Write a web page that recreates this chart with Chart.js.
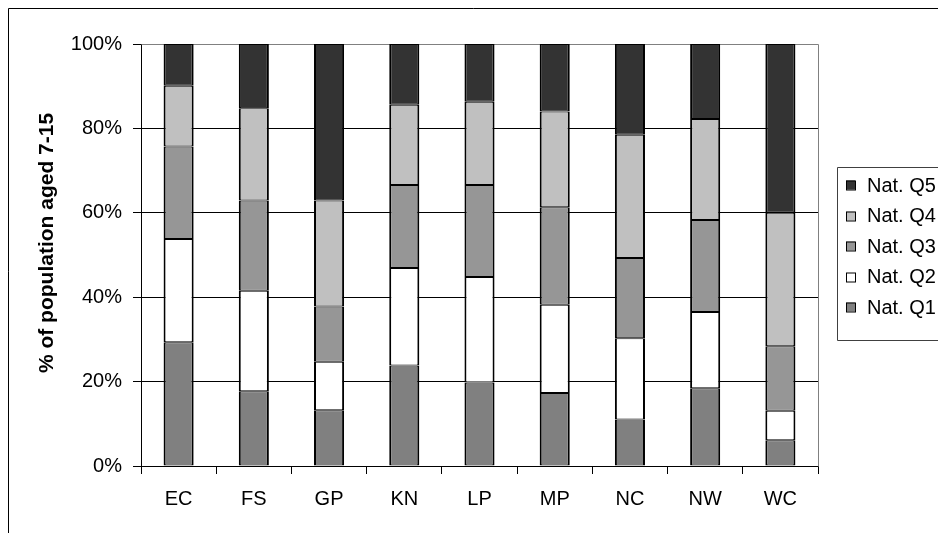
<!DOCTYPE html>
<html>
<head>
<meta charset="utf-8">
<script src="https://cdn.jsdelivr.net/npm/chart.js@4"></script>
<style>
  body { margin: 0; background: #fff; }
  #wrap { width: 938px; height: 533px; }
</style>
</head>
<body>
<div id="wrap"><canvas id="chart" width="938" height="533"></canvas></div>
<script>
// regions and share of population aged 7-15 per national quintile (%)
const regions = ['EC', 'FS', 'GP', 'KN', 'LP', 'MP', 'NC', 'NW', 'WC'];
const natQ1 = [29.3, 17.7, 13.2, 23.8, 19.8, 17.3, 11.0, 18.4, 6.1];
const natQ2 = [24.5, 23.8, 11.5, 23.1, 25.0, 20.9, 19.3, 18.1, 7.0];
const natQ3 = [21.9, 21.4, 13.1, 19.7, 21.8, 23.1, 19.0, 21.8, 15.3];
const natQ4 = [14.4, 21.9, 25.1, 19.0, 19.7, 22.7, 29.2, 23.9, 31.6];
const natQ5 = [9.9, 15.2, 37.1, 14.4, 13.7, 16.0, 21.5, 17.8, 40.0];
const yTicks = [0, 20, 40, 60, 80, 100];
const yTitle = '% of population aged 7-15';

const FONT = "'Liberation Sans', Arial, sans-serif";

function makeSet(label, data, color) {
    return {
        label: label,
        data: data,
        backgroundColor: color,
        borderColor: '#000',
        borderWidth: { left: 2, right: 2, top: 1, bottom: 1 },
        borderSkipped: false,
        barPercentage: 0.4,
        categoryPercentage: 1.0
    };
}

// borde del gráfico, marco del área, título del eje y leyenda
const framePlugin = {
    id: 'frame',
    beforeDatasetsDraw(chart) {
        const { ctx, chartArea: a } = chart;
        ctx.save();
        ctx.strokeStyle = '#808080';
        ctx.lineWidth = 1;
        ctx.beginPath();
        ctx.moveTo(Math.round(a.left) + 0.5, Math.round(a.top) + 0.5);
        ctx.lineTo(Math.round(a.right) + 0.5, Math.round(a.top) + 0.5);
        ctx.lineTo(Math.round(a.right) + 0.5, Math.round(a.bottom) + 0.5);
        ctx.stroke();
        ctx.restore();
    },
    afterDraw(chart) {
        const ctx = chart.ctx;
        ctx.save();
        // outer border (right and bottom fall outside the picture)
        ctx.strokeStyle = '#000';
        ctx.lineWidth = 1;
        ctx.beginPath();
        ctx.moveTo(8.5, 540);
        ctx.lineTo(8.5, 8.5);
        ctx.lineTo(945, 8.5);
        ctx.stroke();

        // y axis title
        ctx.save();
        ctx.translate(47, 243);
        ctx.rotate(-Math.PI / 2);
        ctx.font = 'bold 21px ' + FONT;
        ctx.textAlign = 'center';
        ctx.textBaseline = 'middle';
        ctx.fillStyle = '#000';
        ctx.fillText(yTitle, 0, 0);
        ctx.restore();

        // legend box
        const boxX = 837.5, boxY = 167.5, boxH = 173;
        ctx.strokeStyle = '#404040';
        ctx.beginPath();
        ctx.moveTo(960, boxY);
        ctx.lineTo(boxX, boxY);
        ctx.lineTo(boxX, boxY + boxH);
        ctx.lineTo(960, boxY + boxH);
        ctx.stroke();

        const sets = chart.data.datasets.slice().reverse();
        const step = 30.5;
        ctx.font = '20px ' + FONT;
        ctx.textBaseline = 'middle';
        sets.forEach((ds, i) => {
            const cy = 185 + i * step;
            ctx.fillStyle = ds.backgroundColor;
            ctx.fillRect(846, Math.round(cy) - 4.5, 9, 9);
            ctx.strokeStyle = '#000';
            ctx.strokeRect(846.5, Math.round(cy) - 4, 9, 9);
            ctx.fillStyle = '#000';
            ctx.fillText(ds.label, 867, cy + 1);
        });
        ctx.restore();
    }
};

const chart = new Chart(document.getElementById('chart').getContext('2d'), {
    type: 'bar',
    data: {
        labels: regions,
        datasets: [
            makeSet('Nat. Q1', natQ1, '#808080'),
            makeSet('Nat. Q2', natQ2, '#ffffff'),
            makeSet('Nat. Q3', natQ3, '#969696'),
            makeSet('Nat. Q4', natQ4, '#c0c0c0'),
            makeSet('Nat. Q5', natQ5, '#333333')
        ]
    },
    options: {
        responsive: false,
        animation: false,
        layout: { padding: { left: 0, top: 44, right: 120, bottom: 0 } },
        plugins: {
            legend: { display: false },
            tooltip: { enabled: false }
        },
        scales: {
            x: {
                stacked: true,
                afterFit: (s) => { s.height = 67; },
                grid: {
                    offset: true,
                    drawOnChartArea: false,
                    tickLength: 8,
                    tickColor: '#000'
                },
                border: { color: '#000', width: 1 },
                ticks: {
                    color: '#000',
                    padding: 13,
                    font: { family: FONT, size: 20 }
                }
            },
            y: {
                stacked: true,
                min: 0,
                max: 100,
                afterFit: (s) => { s.width = 141; },
                afterBuildTicks: (s) => { s.ticks = yTicks.map(v => ({ value: v })); },
                grid: {
                    color: (c) => (c.tick && c.tick.value === 100 ? '#808080' : '#000'),
                    tickColor: '#000',
                    tickLength: 8
                },
                border: { color: '#000', width: 1 },
                ticks: {
                    color: '#000',
                    padding: 11,
                    font: { family: FONT, size: 20 },
                    callback: (v) => v + '%'
                }
            }
        }
    },
    plugins: [framePlugin]
});
</script>
</body>
</html>
